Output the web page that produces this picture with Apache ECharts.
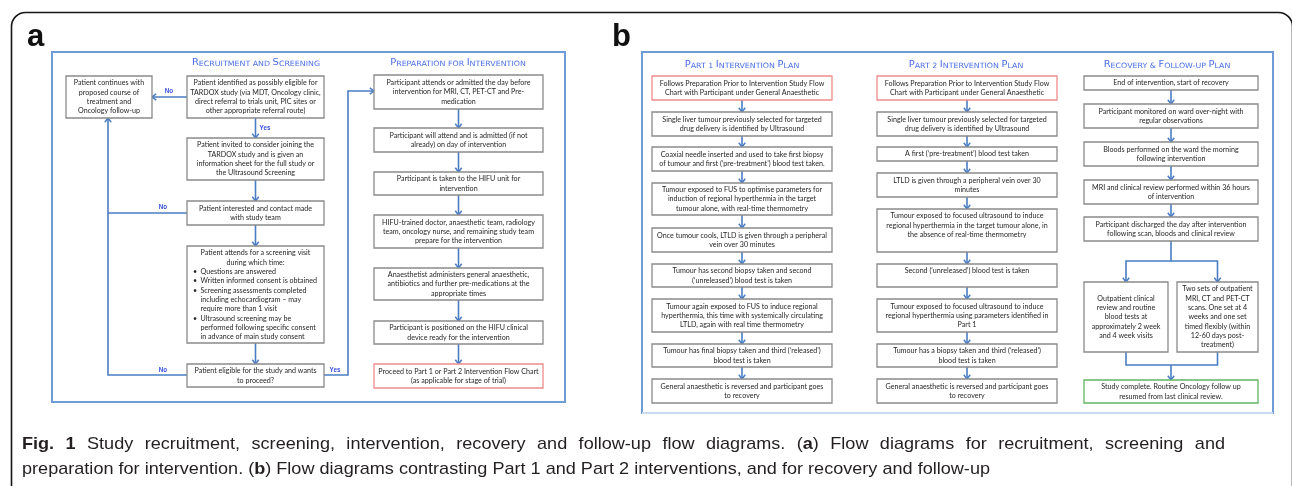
<!DOCTYPE html>
<html>
<head>
<meta charset="utf-8">
<script src="https://cdn.jsdelivr.net/npm/echarts@6/dist/echarts.min.js"></script>
<style>
html, body { margin: 0; padding: 0; background: #fff; }
#main { width: 1292px; height: 486px; }
</style>
</head>
<body>
<div id="main"></div>
<script>
// ---- texts of the flow diagrams ----
var recruitTexts = [
  'Patient continues with\nproposed course of\ntreatment and\nOncology follow-up',
  'Patient identified as possibly eligible for\nTARDOX study (via MDT, Oncology clinic,\ndirect referral to trials unit, PIC sites or\nother appropriate referral route)',
  'Patient invited to consider joining the\nTARDOX study and is given an\ninformation sheet for the full study or\nthe Ultrasound Screening',
  'Patient interested and contact made\nwith study team',
  'Patient attends for a screening visit\nduring which time:',
  'Patient eligible for the study and wants\nto proceed?'
];
var screeningBullets = [
  'Questions are answered',
  'Written informed consent is obtained',
  'Screening assessments completed\nincluding echocardiogram \u2013 may\nrequire more than 1 visit',
  'Ultrasound screening may be\nperformed following specific consent\nin advance of main study consent'
];
var prepTexts = [
  'Participant attends or admitted the day before\nintervention for MRI, CT, PET-CT and Pre-\nmedication',
  'Participant will attend and is admitted (if not\nalready) on day of intervention',
  'Participant is taken to the HIFU unit for\nintervention',
  'HIFU-trained doctor, anaesthetic team, radiology\nteam, oncology nurse, and remaining study team\nprepare for the intervention',
  'Anaesthetist administers general anaesthetic,\nantibiotics and further pre-medications at the\nappropriate times',
  'Participant is positioned on the HIFU clinical\ndevice ready for the intervention',
  'Proceed to Part 1 or Part 2 Intervention Flow Chart\n(as applicable for stage of trial)'
];
var part1Texts = [
  'Follows Preparation Prior to Intervention Study Flow\nChart with Participant under General Anaesthetic',
  'Single liver tumour previously selected for targeted\ndrug delivery is identified by Ultrasound',
  'Coaxial needle inserted and used to take first biopsy\nof tumour and first (\u2018pre-treatment\u2019) blood test taken.',
  'Tumour exposed to FUS to optimise parameters for\ninduction of regional hyperthermia in the target\ntumour alone, with real-time thermometry',
  'Once tumour cools, LTLD is given through a peripheral\nvein over 30 minutes',
  'Tumour has second biopsy taken and second\n(\u2018unreleased\u2019) blood test is taken',
  'Tumour again exposed to FUS to induce regional\nhyperthermia, this time with systemically circulating\nLTLD, again with real time thermometry',
  'Tumour has final biopsy taken and third (\u2018released\u2019)\nblood test is taken',
  'General anaesthetic is reversed and participant goes\nto recovery'
];
var part2Texts = [
  'Follows Preparation Prior to Intervention Study Flow\nChart with Participant under General Anaesthetic',
  'Single liver tumour previously selected for targeted\ndrug delivery is identified by Ultrasound',
  'A first (\u2018pre-treatment\u2019) blood test taken',
  'LTLD is given through a peripheral vein over 30\nminutes',
  'Tumour exposed to focused ultrasound to induce\nregional hyperthermia in the target tumour alone, in\nthe absence of real-time thermometry',
  'Second (\u2018unreleased\u2019) blood test is taken',
  'Tumour exposed to focused ultrasound to induce\nregional hyperthermia using parameters identified in\nPart 1',
  'Tumour has a biopsy taken and third (\u2018released\u2019)\nblood test is taken',
  'General anaesthetic is reversed and participant goes\nto recovery'
];
var recoveryTexts = [
  'End of intervention, start of recovery',
  'Participant monitored on ward over-night with\nregular observations',
  'Bloods performed on the ward the morning\nfollowing intervention',
  'MRI and clinical review performed within 36 hours\nof intervention',
  'Participant discharged the day after intervention\nfollowing scan, bloods and clinical review',
  'Outpatient clinical\nreview and routine\nblood tests at\napproximately 2 week\nand 4 week visits',
  'Two sets of outpatient\nMRI, CT and PET-CT\nscans. One set at 4\nweeks and one set\ntimed flexibly (within\n12-60 days post-\ntreatment)',
  'Study complete. Routine Oncology follow up\nresumed from last clinical review.'
];
var panelTitles = ['Recruitment and Screening', 'Preparation for Intervention',
  'Part 1 Intervention Plan', 'Part 2 Intervention Plan', 'Recovery & Follow-up Plan'];
var branchLabels = ['No', 'Yes', 'No', 'No', 'Yes'];
var panelLetters = ['a', 'b'];
var captionLines = [
  '**Fig.** **1** Study recruitment, screening, intervention, recovery and follow-up flow diagrams. (**a**) Flow diagrams for recruitment, screening and',
  'preparation for intervention. (**b**) Flow diagrams contrasting Part 1 and Part 2 interventions, and for recovery and follow-up'
];

// ---- layout (page units of the hidden axes) ----
var colA0 = [66, 152], colA1 = [187, 324], colB = [374, 543];
var colC = [652, 832], colD = [877, 1057], colE = [1084, 1258];
var colE5 = [1084, 1168], colE6 = [1177, 1258];
var rowsRecruit = [[76, 118], [76, 118], [138, 180], [201, 225], [246, 343], [364, 387]];
var rowsPrep = [[75, 109], [128, 152], [172, 195], [215, 248], [268, 300], [321, 344], [364, 388]];
var rowsPart1 = [[76, 100], [112, 136], [147, 171], [183, 215], [228, 252], [264, 287], [299, 332], [344, 367], [379, 403]];
var rowsPart2 = [[76, 100], [112, 136], [147, 161], [173, 197], [209, 252], [264, 287], [299, 332], [344, 367], [379, 403]];
var rowsRecovery = [[76, 90], [104, 128], [142, 166], [180, 204], [217, 241], [282, 352], [282, 352], [380, 403]];
var panels = [[52, 52, 565, 402], [642, 52, 1273, 413]];
var titleSpots = [[256, 63], [458, 63], [742, 65], [966, 65], [1167, 65]];
var labelSpots = [[169, 91], [265, 128], [163, 207], [163, 370], [335, 370]];

var BOX_FONT = 'Lato', BOX_SIZE = 7.4, LINE_H = 9.3;
var STROKES = { plain: '#8a8a8a', red: '#f08c8c', green: '#63b563' };
var ARROW = '#4a7dc4';

var ctx = document.createElement('canvas').getContext('2d');
function textWidth(str, font) { ctx.font = font; return ctx.measureText(str).width; }
var boxScale = 124 / textWidth('Patient identified as possibly eligible for', BOX_SIZE + 'px ' + BOX_FONT);
boxScale = Math.max(0.7, Math.min(1.15, boxScale));

// boxes
var boxes = [];
function addBox(col, row, text, kind, top) {
  boxes.push({ x: col, y: row, text: text, kind: kind || 'plain', top: !!top });
}
addBox(colA0, rowsRecruit[0], recruitTexts[0]);
addBox(colA1, rowsRecruit[1], recruitTexts[1]);
addBox(colA1, rowsRecruit[2], recruitTexts[2]);
addBox(colA1, rowsRecruit[3], recruitTexts[3]);
addBox(colA1, rowsRecruit[4], recruitTexts[4], 'plain', true);
boxes[boxes.length - 1].bullets = screeningBullets;
addBox(colA1, rowsRecruit[5], recruitTexts[5]);
prepTexts.forEach(function (t, i) { addBox(colB, rowsPrep[i], t, i === prepTexts.length - 1 ? 'red' : 'plain'); });
part1Texts.forEach(function (t, i) { addBox(colC, rowsPart1[i], t, i === 0 ? 'red' : 'plain'); });
part2Texts.forEach(function (t, i) { addBox(colD, rowsPart2[i], t, i === 0 ? 'red' : 'plain', i === 4 || i === 5); });
recoveryTexts.forEach(function (t, i) {
  var col = i === 5 ? colE5 : (i === 6 ? colE6 : colE);
  addBox(col, rowsRecovery[i], t, i === 7 ? 'green' : 'plain');
});

// connectors
var connectors = [];
function link(pts, arrow) { connectors.push({ pts: pts, arrow: arrow !== false }); }
function chain(cx, rows, from, to) {
  for (var i = from; i < to; i++) link([[cx, rows[i][1]], [cx, rows[i + 1][0]]]);
}
var cA = (colA1[0] + colA1[1]) / 2;
link([[colA1[0], 97], [colA0[1], 97]]);
chain(cA, rowsRecruit, 1, 5);
link([[colA1[0], 375], [108, 375], [108, rowsRecruit[0][1]]]);
link([[colA1[0], 213], [108, 213]], false);
link([[colA1[1], 375], [348, 375], [348, 91], [colB[0], 91]]);
chain((colB[0] + colB[1]) / 2, rowsPrep, 0, rowsPrep.length - 1);
chain((colC[0] + colC[1]) / 2, rowsPart1, 0, rowsPart1.length - 1);
chain((colD[0] + colD[1]) / 2, rowsPart2, 0, rowsPart2.length - 1);
var cE = (colE[0] + colE[1]) / 2, cE5 = (colE5[0] + colE5[1]) / 2, cE6 = (colE6[0] + colE6[1]) / 2;
chain(cE, rowsRecovery, 0, 4);
link([[cE, rowsRecovery[4][1]], [cE, 261], [cE5, 261], [cE5, rowsRecovery[5][0]]]);
link([[cE, 261], [cE6, 261], [cE6, rowsRecovery[6][0]]]);
link([[cE5, rowsRecovery[5][1]], [cE5, 365], [cE6, 365], [cE6, rowsRecovery[6][1]]], false);
link([[cE, 365], [cE, rowsRecovery[7][0]]]);

function smallCaps(s) {
  var out = '';
  s.split(' ').forEach(function (w, k) {
    if (k) out += '{sm| }';
    var first = w.charAt(0);
    if (/[A-Z]/.test(first)) {
      out += '{big|' + first + '}';
      if (w.length > 1) out += '{sm|' + w.slice(1).toUpperCase() + '}';
    } else {
      out += '{sm|' + w.toUpperCase() + '}';
    }
  });
  return out;
}

function renderPanel(params, api) {
  var p0 = api.coord([api.value(0), api.value(1)]);
  var p1 = api.coord([api.value(2), api.value(3)]);
  var w = p1[0] - p0[0], h = p1[1] - p0[1];
  var kids = [{
    type: 'rect', shape: { x: p0[0], y: p0[1], width: w, height: h },
    style: { fill: 'none', stroke: '#6f9bd6', lineWidth: 2 }
  }];
  if (params.dataIndex === 1) {
    kids.push({ type: 'line', shape: { x1: p0[0], y1: p1[1], x2: p1[0], y2: p1[1] },
      style: { stroke: '#c9dbf1', lineWidth: 2.2 } });
  }
  return { type: 'group', children: kids };
}

function renderTitle(params, api) {
  var p = api.coord([api.value(0), api.value(1)]);
  return {
    type: 'text', x: p[0], y: p[1], scaleX: 1.08,
    style: {
      text: smallCaps(panelTitles[api.value(2)]), x: 0, y: 0,
      align: 'center', verticalAlign: 'middle',
      rich: {
        big: { fontSize: 9.2, fontFamily: 'DejaVu Sans', fill: '#4a6ee6', verticalAlign: 'bottom' },
        sm: { fontSize: 7.3, fontFamily: 'DejaVu Sans', fill: '#4a6ee6', verticalAlign: 'bottom' }
      }
    }
  };
}

function boxText(str, x, y, align, vAlign) {
  return {
    type: 'text', x: x, y: y, scaleX: boxScale,
    style: {
      text: str, x: 0, y: 0, align: align, verticalAlign: vAlign,
      fontSize: BOX_SIZE, fontFamily: BOX_FONT, lineHeight: LINE_H, fill: '#262626'
    }
  };
}

function renderBox(params, api) {
  var b = boxes[api.value(4)];
  var p0 = api.coord([api.value(0), api.value(1)]);
  var p1 = api.coord([api.value(2), api.value(3)]);
  var cx = (p0[0] + p1[0]) / 2;
  var kids = [{
    type: 'rect',
    shape: { x: p0[0], y: p0[1], width: p1[0] - p0[0], height: p1[1] - p0[1] },
    style: { fill: '#fff', stroke: STROKES[b.kind], lineWidth: 1.3 }
  }];
  var topPad = 2.4;
  if (b.top) {
    kids.push(boxText(b.text, cx, p0[1] + topPad, 'center', 'top'));
  } else {
    kids.push(boxText(b.text, cx, (p0[1] + p1[1]) / 2, 'center', 'middle'));
  }
  if (b.bullets) {
    var y = p0[1] + topPad + 2 * LINE_H;
    var bx = api.coord([193, 0])[0], tx = api.coord([200.5, 0])[0];
    b.bullets.forEach(function (t) {
      kids.push(boxText('\u2022', bx, y, 'left', 'top'));
      kids.push(boxText(t, tx, y, 'left', 'top'));
      y += t.split('\n').length * LINE_H;
    });
  }
  return { type: 'group', children: kids };
}

function renderLink(params, api) {
  var c = connectors[api.value(2)];
  var pts = c.pts.map(function (p) { return api.coord(p); });
  var kids = [{ type: 'polyline', shape: { points: pts }, style: { stroke: ARROW, lineWidth: 1.6, fill: 'none' } }];
  if (c.arrow) {
    var e = pts[pts.length - 1], s = pts[pts.length - 2];
    var dx = e[0] - s[0], dy = e[1] - s[1], len = Math.sqrt(dx * dx + dy * dy) || 1;
    dx /= len; dy /= len;
    var L = 4.2, Wd = 3.2;
    kids.push({
      type: 'polyline',
      shape: { points: [
        [e[0] - dx * L - dy * Wd, e[1] - dy * L + dx * Wd],
        [e[0], e[1]],
        [e[0] - dx * L + dy * Wd, e[1] - dy * L - dx * Wd]
      ] },
      style: { stroke: ARROW, lineWidth: 1.5, fill: 'none' }
    });
  }
  return { type: 'group', children: kids };
}

function renderLabel(params, api) {
  var p = api.coord([api.value(0), api.value(1)]);
  return {
    type: 'text', x: p[0], y: p[1],
    style: { text: branchLabels[api.value(2)], x: 0, y: 0, align: 'center', verticalAlign: 'middle',
      fontSize: 6.3, fontFamily: 'Liberation Sans', fontWeight: 'bold', fill: '#3a4fe0' }
  };
}

// ---- caption: justified first line ----
var CAP_FONT = 'Liberation Sans', CAP_SIZE = 17;
function capFont(bold) { return (bold ? 'bold ' : '') + CAP_SIZE + 'px "' + CAP_FONT + '"'; }
function wordWidth(word) {
  var w = 0;
  word.split(/(\*\*[^*]+\*\*)/).forEach(function (p) {
    if (!p) return;
    var bold = p.indexOf('**') === 0;
    w += textWidth(p.replace(/\*\*/g, ''), capFont(bold));
  });
  return w;
}
function richWord(word) { return word.replace(/\*\*([^*]+)\*\*/g, '{b|$1}'); }
var capLeft = 22, capRight1 = 1225, capRight2 = 990, capY = [444, 469];
var spaceW = textWidth(' ', capFont(false));
var words2 = captionLines[1].split(' ');
var nat2 = words2.reduce(function (a, w) { return a + wordWidth(w); }, 0) + spaceW * (words2.length - 1);
var capScale = (capRight2 - capLeft) / nat2;

var graphics = [];
graphics.push({
  type: 'rect', left: 9, top: 10, silent: true,
  shape: { x: 0, y: 0, width: 1281, height: 600, r: 14 },
  style: { fill: 'none', stroke: '#161616', lineWidth: 1.6 }
});
[[27, 22], [612, 22]].forEach(function (p, i) {
  graphics.push({
    type: 'text', x: p[0], y: p[1], silent: true,
    style: { text: panelLetters[i], font: 'bold 31px "Liberation Sans"', fill: '#111', verticalAlign: 'top' }
  });
});
captionLines.forEach(function (line, li) {
  var words = line.split(' ');
  var widths = words.map(function (w) { return wordWidth(w) * capScale; });
  var total = widths.reduce(function (a, b) { return a + b; }, 0);
  var gap = li === 0 ? ((capRight1 - capLeft) - total) / (words.length - 1) : spaceW * capScale;
  var x = capLeft;
  words.forEach(function (w, k) {
    graphics.push({
      type: 'text', x: x, y: capY[li], scaleX: capScale, silent: true,
      style: {
        text: richWord(w), x: 0, y: 0, verticalAlign: 'middle',
        font: capFont(false), fill: '#231f20',
        rich: { b: { fontWeight: 'bold', fontSize: CAP_SIZE, fontFamily: CAP_FONT, fill: '#231f20' } }
      }
    });
    x += widths[k] + gap;
  });
});

var chart = echarts.init(document.getElementById('main'));
chart.setOption({
  animation: false,
  backgroundColor: '#fff',
  grid: { left: 0, right: 0, top: 0, bottom: 0 },
  xAxis: { type: 'value', min: 0, max: 1292, show: false },
  yAxis: { type: 'value', min: 0, max: 486, inverse: true, show: false },
  graphic: graphics,
  series: [
    {
      type: 'custom', name: 'panels', silent: true, clip: false, z: 1,
      encode: { x: [0, 2], y: [1, 3] },
      data: panels, renderItem: renderPanel
    },
    {
      type: 'custom', name: 'titles', silent: true, clip: false, z: 2,
      data: titleSpots.map(function (p, i) { return [p[0], p[1], i]; }), renderItem: renderTitle
    },
    {
      type: 'custom', name: 'links', silent: true, clip: false, z: 3,
      data: connectors.map(function (c, i) { return [c.pts[0][0], c.pts[0][1], i]; }), renderItem: renderLink
    },
    {
      type: 'custom', name: 'boxes', silent: true, clip: false, z: 4,
      encode: { x: [0, 2], y: [1, 3] },
      data: boxes.map(function (b, i) { return [b.x[0], b.y[0], b.x[1], b.y[1], i]; }), renderItem: renderBox
    },
    {
      type: 'custom', name: 'labels', silent: true, clip: false, z: 5,
      data: labelSpots.map(function (p, i) { return [p[0], p[1], i]; }), renderItem: renderLabel
    }
  ]
});
</script>
</body>
</html>
